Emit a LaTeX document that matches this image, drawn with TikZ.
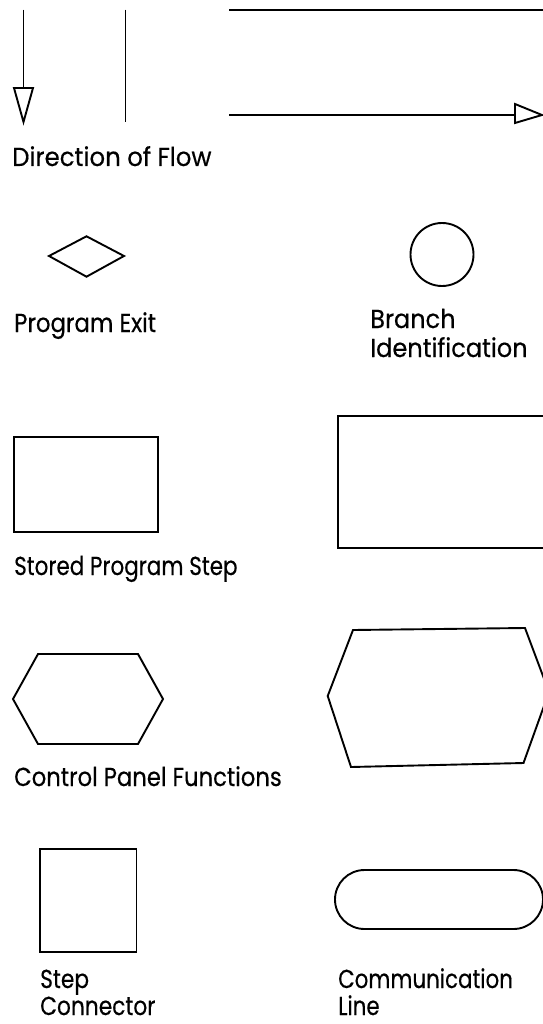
\documentclass[tikz,border=0pt]{standalone}
\usepackage{fontspec}
\usepackage{graphicx}
\setmainfont[FakeStretch=0.94,FakeBold=0.4]{Poppins}
\newcommand{\sx}[2]{\scalebox{#1}[1]{#2}}
\begin{document}
\begin{tikzpicture}[x=1pt,y=-1pt,
  shp/.style={line width=1.9pt,line join=miter},
  lbl/.style={anchor=base west,inner sep=0pt,font=\fontsize{26}{30}\selectfont}]
\useasboundingbox[fill=white] (0,0) rectangle (542,1024);
% direction of flow
\draw[shp] (23.5,9.7) -- (23.5,88);
\draw[shp] (14,88) -- (33,88) -- (23.5,122) -- cycle;
\draw[shp] (125.5,9.7) -- (125.5,122);
\draw[shp] (229,10.4) -- (545,10.4);
\draw[shp] (229,115) -- (515,115);
\draw[shp] (515,104) -- (542,115) -- (515,123) -- cycle;
\node[lbl] (dof) at (12,166) {Direction of Flow};
% program exit
\draw[shp] (49,256) -- (86.5,236.3) -- (124,256) -- (86.5,276.7) -- cycle;
\node[lbl] (pe) at (14,332) {\sx{0.934}{Program Exit}};
% branch identification
\draw[shp] (442,254.5) circle (31.5);
\node[lbl] (br) at (370,328) {\sx{0.985}{Branch}};
\node[lbl] (bi) at (370,357) {\sx{0.985}{Identification}};
% stored program step
\draw[shp] (14,437) rectangle (158,532);
\node[lbl] (sps) at (14,575) {\sx{0.88}{Stored Program Step}};
\draw[shp] (545,416) -- (338,416) -- (338,548) -- (545,548);
% control panel functions
\draw[shp] (13,699) -- (38,654) -- (138,654) -- (163,699) -- (138,744) -- (38,744) -- cycle;
\node[lbl] (cpf) at (14,786) {\sx{0.93}{Control Panel Functions}};
\draw[shp] (327.7,696) -- (353,630) -- (525,628) -- (549,692) -- (523.5,763) -- (351,767) -- cycle;
% step connector
\draw[shp] (40,849) rectangle (136.5,952);
\node[lbl] (st) at (40,988) {\sx{0.89}{Step}};
\node[lbl] (sc) at (40,1015) {\sx{0.89}{Connector}};
% communication line
\draw[shp,rounded corners=29.5pt] (335,870) rectangle (543,929);
\node[lbl] (cm) at (338,988) {\sx{0.875}{Communication}};
\node[lbl] (cl) at (338,1015) {\sx{0.875}{Line}};
\end{tikzpicture}
\end{document}
